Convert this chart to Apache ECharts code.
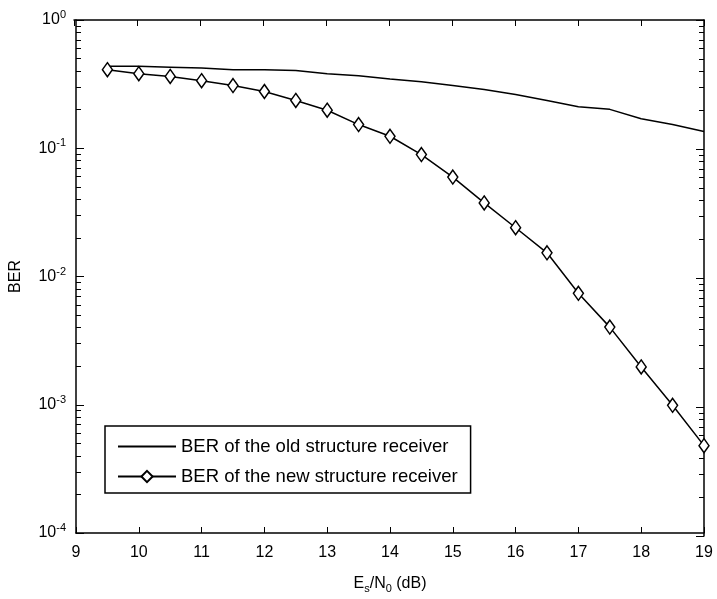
<!DOCTYPE html>
<html>
<head>
<meta charset="utf-8">
<script src="https://cdn.jsdelivr.net/npm/echarts@6/dist/echarts.min.js"></script>
<style>
  html, body { margin: 0; padding: 0; background: #fff; }
  #chart { width: 717px; height: 599px; }
</style>
</head>
<body>
<div id="chart"></div>
<script>
var snr = [9.5, 10, 10.5, 11, 11.5, 12, 12.5, 13, 13.5, 14, 14.5, 15, 15.5, 16, 16.5, 17, 17.5, 18, 18.5, 19];
var berOld = [0.435, 0.435, 0.428, 0.422, 0.41, 0.41, 0.403, 0.381, 0.368, 0.347, 0.33, 0.308, 0.287, 0.262, 0.236, 0.211, 0.201, 0.17, 0.153, 0.135];
var berNew = [0.41, 0.381, 0.363, 0.336, 0.308, 0.277, 0.236, 0.198, 0.153, 0.124, 0.0893, 0.0596, 0.0375, 0.024, 0.0153, 0.0074, 0.00403, 0.00197, 0.00099, 0.00048];
var oldName = 'BER of the old structure receiver';
var newName = 'BER of the new structure receiver';

function pairs(ys) {
  return snr.map(function (x, i) { return [x, ys[i]]; });
}

var font = 'Liberation Sans, Arial, Helvetica, sans-serif';
var black = '#000';
var box = { left: 74, top: 20, width: 630, height: 516 };

var chart = echarts.init(document.getElementById('chart'));
chart.setOption({
  backgroundColor: '#fff',
  animation: false,
  // two grids on the same box: one for the bottom/left axes, one for the mirrored top/right
  grid: [Object.assign({}, box), Object.assign({}, box)],
  legend: {
    orient: 'vertical', left: 105, top: 426,
    padding: [11, 13, 7, 12], itemGap: 11,
    itemWidth: 58, itemHeight: 14,
    borderColor: black, borderWidth: 1.5, backgroundColor: '#fff',
    textStyle: { fontSize: 18.5, fontFamily: font, color: black },
    data: [{ name: oldName, itemStyle: { opacity: 0 } }, { name: newName }]
  },
  xAxis: [{
    gridIndex: 0, type: 'value', min: 9, max: 19, interval: 1, position: 'bottom',
    name: '{n|E}{sub|s}{n|/N}{sub|0}{n| (dB)}',
    nameLocation: 'middle', nameGap: 40,
    nameTextStyle: {
      rich: {
        n: { fontSize: 16, fontFamily: font, color: black },
        sub: { fontSize: 11, fontFamily: font, color: black, padding: [10, 0, 0, 0] }
      }
    },
    axisLine: { show: true, onZero: false, lineStyle: { color: black, width: 1.5 } },
    axisTick: { show: true, inside: true, length: 6, lineStyle: { color: black } },
    axisLabel: { fontSize: 16, fontFamily: font, color: black, margin: 12 },
    splitLine: { show: false }
  }, {
    gridIndex: 1, type: 'value', min: 9, max: 19, interval: 1, position: 'top',
    axisLine: { show: true, onZero: false, lineStyle: { color: black, width: 1.5 } },
    axisTick: { show: true, inside: true, length: 6, lineStyle: { color: black } },
    axisLabel: { show: false },
    splitLine: { show: false }
  }],
  yAxis: [{
    gridIndex: 0, type: 'log', logBase: 10, min: 1e-4, max: 1, position: 'left',
    name: 'BER', nameLocation: 'middle', nameGap: 52, nameRotate: 90,
    nameTextStyle: { fontSize: 16, fontFamily: font, color: black },
    axisLine: { show: true, lineStyle: { color: black, width: 1.5 } },
    axisTick: { show: true, inside: true, length: 8, lineStyle: { color: black } },
    // 2..9 inside each decade
    minorTick: { show: true, splitNumber: 9, length: 5, lineStyle: { color: black } },
    axisLabel: {
      margin: 10,
      formatter: function (v) {
        return '{b|10}{s|' + Math.round(Math.log10(v)) + '}';
      },
      rich: {
        b: { fontSize: 16, fontFamily: font, color: black },
        s: { fontSize: 11, fontFamily: font, color: black, padding: [0, 0, 10, 0] }
      }
    },
    splitLine: { show: false }
  }, {
    gridIndex: 1, type: 'log', logBase: 10, min: 1e-4, max: 1, position: 'right',
    axisLine: { show: true, lineStyle: { color: black, width: 1.5 } },
    axisTick: { show: true, inside: true, length: 8, lineStyle: { color: black } },
    minorTick: { show: true, splitNumber: 9, length: 5, lineStyle: { color: black } },
    axisLabel: { show: false },
    splitLine: { show: false }
  }],
  series: [{
    name: oldName, type: 'line', xAxisIndex: 0, yAxisIndex: 0, data: pairs(berOld),
    symbol: 'none', showSymbol: false,
    lineStyle: { color: black, width: 1.5 },
    itemStyle: { color: black }
  }, {
    name: newName, type: 'line', xAxisIndex: 0, yAxisIndex: 0, data: pairs(berNew),
    symbol: 'diamond', symbolSize: [10, 14], showSymbol: true,
    lineStyle: { color: black, width: 1.5 },
    itemStyle: { color: '#fff', borderColor: black, borderWidth: 1.5 }
  }]
});
</script>
</body>
</html>
